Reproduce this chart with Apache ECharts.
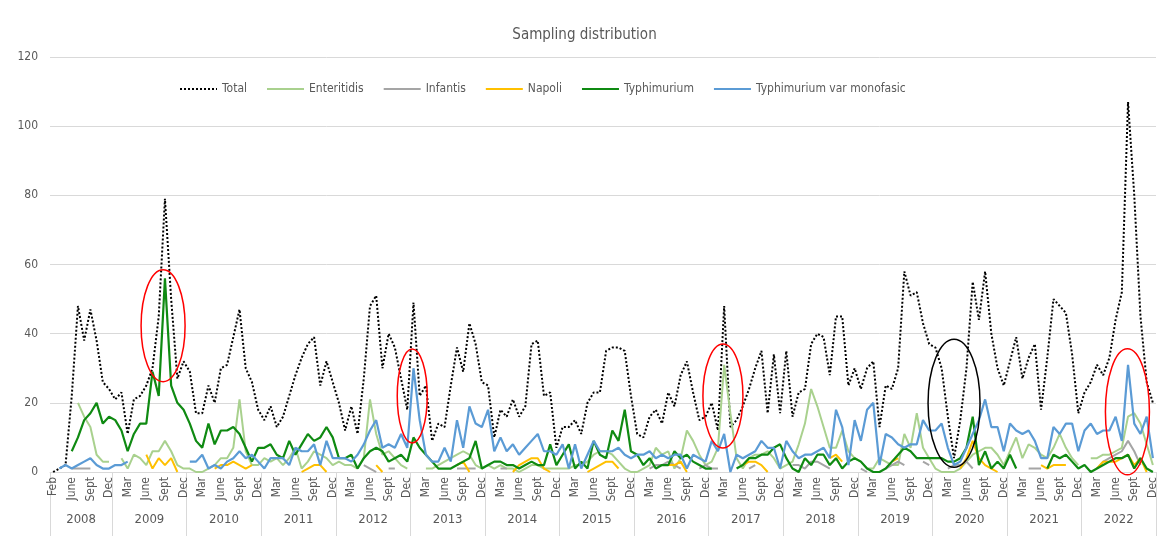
<!DOCTYPE html>
<html>
<head>
<meta charset="utf-8">
<script src="https://cdn.jsdelivr.net/npm/echarts@6/dist/echarts.min.js"></script>
<style>
  html, body { margin: 0; padding: 0; background: #fff; }
  #chart { width: 1169px; height: 536px; }
</style>
</head>
<body>
<div id="chart"></div>
<script>
var _ = null;

// categories: 2008 starts in Feb and has no May
var monthNames = ['Jan', 'Feb', 'Mar', 'Apr', 'May', 'June', 'July', 'Aug', 'Sept', 'Oct', 'Nov', 'Dec'];
var months2008 = ['Feb', 'Mar', 'Apr', 'June', 'July', 'Aug', 'Sept', 'Oct', 'Nov', 'Dec'];
var years = [2008, 2009, 2010, 2011, 2012, 2013, 2014, 2015, 2016, 2017, 2018, 2019, 2020, 2021, 2022];

var total = [
  0, 1, 2, 22, 48, 38, 47, 38, 26, 24,
  21, 23, 11, 21, 22, 25, 30, 45, 79, 50, 27, 32,
  29, 17, 17, 25, 20, 30, 31, 39, 47, 30, 26, 18,
  15, 19, 13, 16, 22, 28, 33, 37, 39, 25, 32, 26,
  20, 12, 19, 11, 27, 48, 51, 30, 40, 36, 27, 18,
  49, 22, 25, 9, 14, 13, 25, 36, 29, 43, 37, 26,
  25, 10, 18, 16, 21, 16, 19, 37, 38, 22, 23, 7,
  13, 13, 15, 11, 20, 23, 23, 35, 36, 36, 35, 22,
  11, 10, 16, 18, 14, 23, 19, 28, 32, 23, 15, 16,
  20, 12, 48, 13, 15, 19, 24, 30, 35, 17, 34, 17,
  35, 16, 23, 24, 37, 40, 39, 28, 45, 45, 25, 30,
  24, 30, 32, 13, 25, 24, 30, 58, 51, 52, 43, 37,
  36, 30, 16, 4, 15, 30, 55, 44, 58, 40, 30, 25,
  32, 39, 27, 33, 37, 18, 33, 50, 48, 46, 34, 17,
  23, 26, 31, 28, 33, 44, 52, 107, 80, 45, 26, 20
];

var enteritidis = [
  _, _, _, _, 20, 16, 13, 5, 3, 3,
  _, 4, 1, 5, 4, 2, 6, 6, 9, 6, 2, 1,
  1, 0, 0, 1, 2, 4, 4, 7, 21, 6, 2, 2,
  4, 3, 4, 2, 4, 7, 1, 3, 6, 5, 4, 2,
  3, 2, 2, 1, 4, 21, 11, 5, 6, 4, 2, 1,
  _, _, 1, 1, 2, 3, 4, 5, 6, 5, 2, 1,
  2, 1, 2, 1, 1, 0, 1, 2, 2, 1, 1, 1,
  1, 1, 2, 2, 3, 5, 6, 6, 5, 3, 1, 0,
  0, 1, 2, 7, 5, 6, 1, 4, 12, 9, 5, 2,
  3, 7, 31, 17, 4, 1, 4, 5, 5, 6, 4, 1,
  2, 3, 8, 14, 24, 19, 13, 7, 7, 12, 6, 4,
  3, 1, 1, 4, 3, 2, 2, 11, 7, 17, 7, 4,
  1, 0, 0, 0, 1, 3, 5, 6, 7, 7, 5, 2,
  6, 10, 4, 8, 7, 5, 4, 7, 11, 7, 4, 2,
  _, 4, 4, 5, 5, 6, 7, 16, 17, 14, 8, 2
];

var infantis = [
  _, _, _, 1, 1, 1, 1, _, _, _,
  _, _, _, _, _, _, _, _, _, _, _, _,
  _, _, _, _, _, _, _, _, _, _, _, _,
  _, _, _, _, _, _, _, _, _, _, _, _,
  _, _, _, _, 2, 1, 0, _, 1, 1, _, _,
  _, _, _, _, _, _, _, 1, 1, 1, 1, _,
  _, _, 1, 1, _, _, _, _, _, _, _, _,
  _, _, _, _, _, _, _, _, _, _, _, _,
  _, _, 1, 2, 2, 3, 2, 1, _, _, 1, 2,
  1, 1, _, _, _, _, 1, 2, _, _, _, _,
  _, 2, 2, 1, 3, 3, 2, 1, _, _, _, _,
  1, 0, _, _, 1, 2, 3, 2, _, _, 3, 2,
  _, _, 1, 2, 2, 3, 1, _, _, _, _, _,
  _, _, _, 1, 1, 1, _, _, _, _, _, _,
  _, _, 1, 3, 4, 5, 6, 9, 6, 2, _, _
];

var napoli = [
  _, _, _, _, _, _, _, _, _, _,
  _, _, _, _, _, 5, 1, 4, 2, 4, 0, _,
  _, _, _, _, 1, 2, 2, 3, 2, 1, 2, _,
  _, _, _, _, _, _, 0, 1, 2, 2, 0, _,
  _, _, _, _, _, _, 2, 0, _, _, _, _,
  _, _, _, _, _, _, _, 2, 3, 0, _, _,
  _, _, _, _, 0, 2, 3, 4, 4, 1, 0, _,
  _, _, _, _, 0, 1, 2, 3, 3, 1, _, _,
  _, _, _, _, _, 2, 2, 3, 0, _, _, _,
  _, _, _, _, _, 2, 3, 3, 2, 0, _, _,
  _, _, _, _, _, _, _, 4, 5, 3, _, _,
  _, _, _, _, _, 3, 4, _, _, _, _, _,
  _, _, _, _, 1, 4, 9, 4, 2, 1, 0, _,
  _, _, _, _, _, 2, 1, 2, 2, 2, _, _,
  _, _, 1, 3, 3, 3, 4, 5, 2, 4, 0, _
];

var typhimurium = [
  _, _, _, 6, 10, 15, 17, 20, 14, 16,
  15, 12, 6, 11, 14, 14, 29, 22, 56, 25, 20, 18,
  14, 9, 7, 14, 8, 12, 12, 13, 11, 7, 3, 7,
  7, 8, 5, 4, 9, 5, 8, 11, 9, 10, 13, 10,
  4, 4, 5, 1, 4, 6, 7, 6, 3, 4, 5, 3,
  10, 7, 5, 3, 1, 1, 1, 2, 3, 4, 9, 1,
  2, 3, 3, 2, 2, 1, 2, 3, 2, 2, 8, 2,
  5, 8, 1, 3, 1, 9, 5, 4, 12, 9, 18, 6,
  5, 2, 4, 1, 2, 2, 6, 4, 5, 3, 2, 1,
  1, _, _, _, 1, 2, 4, 4, 5, 5, 7, 8,
  4, 1, 0, 4, 2, 5, 5, 2, 4, 1, 3, 4,
  3, 1, 0, 0, 1, 3, 5, 7, 6, 4, 4, 4,
  4, 4, 3, 3, 4, 7, 16, 2, 6, 1, 3, 1,
  5, 1, _, _, _, _, 1, 5, 4, 5, 3, 1,
  2, 0, 1, 2, 3, 4, 4, 5, 1, 4, 1, 0
];

var monofasic = [
  _, 1, 2, 1, 2, 3, 4, 2, 1, 1,
  2, 2, 3, _, _, _, _, _, _, _, _, _,
  3, 3, 5, 1, 2, 1, 3, 4, 6, 4, 5, 3,
  1, 4, 4, 4, 2, 7, 6, 6, 8, 2, 9, 4,
  4, 4, 3, 5, 8, 12, 15, 7, 8, 7, 11, 7,
  30, 15, 5, 3, 3, 7, 3, 15, 7, 19, 14, 13,
  18, 6, 10, 6, 8, 5, 7, 9, 11, 6, 6, 5,
  8, 1, 8, 1, 5, 9, 6, 6, 6, 7, 5, 4,
  5, 5, 6, 4, 5, 4, 5, 5, 1, 5, 4, 3,
  9, 6, 11, 0, 5, 4, 5, 6, 9, 7, 7, 1,
  9, 6, 4, 5, 5, 6, 7, 4, 18, 13, 2, 15,
  9, 18, 20, 2, 11, 10, 8, 7, 8, 8, 15, 12,
  12, 14, 7, 2, 3, 7, 11, 15, 21, 13, 13, 6,
  14, 12, 11, 12, 9, 4, 4, 13, 11, 14, 14, 6,
  12, 14, 11, 12, 12, 16, 9, 31, 14, 11, 16, 4
];

// hand-drawn rings on the original: [category index, value, rx px, ry px, colour]
var rings = [
  [17.7, 42.3, 22, 56, '#ff0000'],
  [57.8, 22.0, 15, 47, '#ff0000'],
  [107.8, 22.0, 20, 52, '#ff0000'],
  [145.0, 19.9, 26, 64, '#000000'],
  [172.9, 17.4, 22, 63, '#ff0000']
];

var categories = [];
var yearStarts = [0];
var yearMids = [];
years.forEach(function (y, k) {
  var names = k === 0 ? months2008 : monthNames;
  names.forEach(function (m) { categories.push(m); });
  yearMids.push(yearStarts[k] + names.length / 2);
  yearStarts.push(categories.length);
});

var font = "'Liberation Sans Narrow', 'DejaVu Sans Condensed', 'Liberation Sans', sans-serif";
var grey = '#595959';

var myChart = echarts.init(document.getElementById('chart'));

function line(name, data, color, width, type) {
  return {
    name: name,
    type: 'line',
    data: data,
    symbol: 'none',
    xAxisIndex: 0,
    lineStyle: { color: color, width: width, type: type || 'solid', cap: 'butt' },
    itemStyle: { color: color },
    emphasis: { disabled: true }
  };
}

var option = {
  animation: false,
  backgroundColor: '#fff',
  textStyle: { fontFamily: font },
  title: {
    text: 'Sampling distribution',
    left: 'center',
    top: 23,
    textStyle: { fontFamily: font, fontSize: 15, fontWeight: 'normal', color: grey }
  },
  legend: {
    left: 174,
    top: 78,
    itemWidth: 37,
    itemHeight: 10,
    itemGap: 19,
    itemStyle: { opacity: 0 },
    textStyle: { fontFamily: font, fontSize: 12, color: grey },
    data: ['Total', 'Enteritidis', 'Infantis', 'Napoli', 'Typhimurium', 'Typhimurium var monofasic']
  },
  grid: { left: 50, right: 13, top: 57, bottom: 64 },
  xAxis: [
    {
      type: 'category',
      data: categories,
      boundaryGap: true,
      axisLine: { lineStyle: { color: '#d9d9d9' } },
      axisTick: { show: false },
      axisLabel: {
        interval: 2,
        rotate: 90,
        margin: 5,
        fontFamily: font,
        fontSize: 12,
        color: grey
      },
      splitLine: { show: false }
    },
    {
      type: 'value',
      min: 0,
      max: categories.length,
      position: 'bottom',
      axisLine: { show: false },
      splitLine: { show: false },
      axisTick: {
        show: true,
        customValues: yearStarts,
        length: 64,
        lineStyle: { color: '#d9d9d9' }
      },
      axisLabel: {
        customValues: yearMids,
        margin: 41,
        fontFamily: font,
        fontSize: 13,
        color: grey,
        formatter: function (v) {
          return years[yearMids.indexOf(v)];
        }
      }
    }
  ],
  yAxis: {
    type: 'value',
    min: 0,
    max: 120,
    interval: 20,
    axisLine: { show: false },
    axisTick: { show: false },
    axisLabel: { margin: 12, fontFamily: font, fontSize: 12, color: grey },
    splitLine: { lineStyle: { color: '#d9d9d9', width: 1 } }
  },
  series: [
    line('Total', total, '#000000', 2, [2, 2]),
    line('Enteritidis', enteritidis, '#a9d18e', 2),
    line('Infantis', infantis, '#a5a5a5', 2),
    line('Napoli', napoli, '#ffc000', 2),
    line('Typhimurium', typhimurium, '#0f8a12', 2.2),
    line('Typhimurium var monofasic', monofasic, '#5b9bd5', 2.2)
  ]
};

myChart.setOption(option);

var shapes = rings.map(function (r) {
  var cx = myChart.convertToPixel({ xAxisIndex: 1 }, r[0] + 0.5);
  var cy = myChart.convertToPixel({ yAxisIndex: 0 }, r[1]);
  return {
    type: 'ellipse',
    shape: { cx: cx, cy: cy, rx: r[2], ry: r[3] },
    style: { fill: 'none', stroke: r[4], lineWidth: 1.5 },
    z: 100
  };
});
myChart.setOption({ graphic: shapes });
</script>
</body>
</html>
